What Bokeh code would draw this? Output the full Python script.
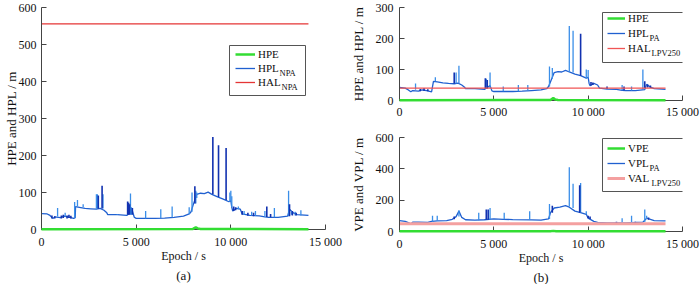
from bokeh.plotting import figure
from bokeh.models import Range1d, FixedTicker, Legend, LegendItem, Label, Title, BoxAnnotation
from bokeh.layouts import row, column
from bokeh.embed import file_html
from bokeh.resources import INLINE

FONT = "Liberation Serif"

# ---------------- data (a) ----------------
a_hpl_t = [0, 300, 450, 600, 700, 1000, 1200, 1500, 1700, 1780, 1800, 2000, 2300, 2600, 2900, 3100, 3300, 3450, 3500, 4000,
           4500, 4800, 4900, 5000, 6000, 6500, 7000, 7500, 7800, 7900, 8000, 8100, 8200, 8400, 8600, 8800, 9000, 9300,
           9600, 9900, 10000, 10050, 10100, 10300, 10500, 10600, 11000, 11500, 11800, 12000, 12500, 13000, 13100, 13300,
           13500, 14100]
a_hpl_v = [43, 42, 38, 30, 34, 32, 36, 33, 30, 32, 62, 60, 57, 56, 55, 57, 52, 45, 40, 40,
           38, 50, 33, 30, 30, 31, 33, 36, 42, 48, 65, 80, 95, 98, 97, 101, 95, 88,
           82, 75, 78, 60, 50, 57, 55, 42, 38, 37, 34, 33, 33, 36, 55, 45,
           40, 38]
a_spk_t = [850, 1250, 1750, 1900, 2200, 2900, 2950, 3250, 4000, 4700, 4750, 5500, 6300, 6900, 7800, 7950, 8150, 8200,
           9950, 10000, 10050, 10400, 10700, 11100, 11300, 11800, 12300, 13050, 13200, 13400, 13700]
a_spk_lo = [35, 35, 32, 62, 60, 56, 56, 57, 40, 40, 40, 30, 31, 33, 42, 48, 70, 85,
            75, 78, 60, 55, 40, 38, 37, 34, 33, 36, 40, 38, 38]
a_spk_hi = [58, 45, 74, 80, 68, 95, 95, 95, 42, 97, 60, 50, 55, 62, 60, 100, 105, 100,
            100, 105, 90, 62, 50, 48, 50, 50, 58, 105, 50, 48, 52]
a_dk_t = [550, 700, 1050, 1150, 1350, 1450, 1550, 3000, 3200, 4550, 4600, 4650, 4800, 8100, 9050, 9350, 9750,
          10150, 10250, 10600, 10900, 11200, 11900, 12100, 13100, 13250, 13450]
a_dk_lo = [30, 30, 30, 31, 30, 31, 30, 56, 57, 40, 40, 40, 40, 70, 95, 88, 80,
           50, 52, 40, 37, 36, 34, 33, 36, 38, 38]
a_dk_hi = [38, 36, 38, 40, 38, 40, 37, 92, 118, 76, 72, 68, 58, 117, 250, 228, 220,
           62, 60, 50, 45, 45, 62, 42, 68, 50, 45]
a_hpe_t = [0, 8000, 8150, 8250, 8400, 14100]
a_hpe_v = [1, 1.5, 6, 3, 1.5, 1]
a_hal_t = [0, 14100]
a_hal_v = [556, 556]

# ---------------- data (b) top ----------------
b_hpl_t = [0, 300, 450, 600, 700, 1000, 1200, 1500, 1700, 1800, 2000, 2300, 2600, 2900, 3100, 3300, 3450, 3500, 4000,
           4500, 4800, 4900, 5000, 6000, 6500, 7000, 7500, 7800, 7900, 8000, 8100, 8200, 8400, 8600, 8800, 9000,
           9300, 9600, 9900, 10000, 10050, 10100, 10300, 10500, 10600, 11000, 11500, 11800, 12000, 12500, 13000,
           13100, 13300, 13500, 14100]
b_hpl_v = [42, 40, 35, 28, 32, 30, 34, 31, 28, 62, 60, 57, 55, 54, 56, 50, 43, 38, 38,
           36, 48, 31, 29, 29, 30, 32, 34, 38, 45, 60, 75, 90, 93, 92, 97, 92,
           85, 80, 72, 75, 55, 48, 55, 50, 40, 37, 36, 33, 32, 32, 35,
           52, 43, 38, 36]
b_spk_t = [850, 1900, 3000, 3150, 4600, 4800, 5500, 6300, 6800, 7950, 8100, 9000, 9200, 9900, 10000, 11800, 12300, 12900]
b_spk_lo = [35, 62, 55, 56, 38, 40, 30, 30, 32, 45, 70, 92, 90, 72, 72, 33, 32, 35]
b_spk_hi = [55, 75, 90, 112, 70, 90, 45, 50, 50, 110, 105, 240, 225, 100, 98, 50, 45, 100]
b_dk_t = [1100, 1300, 1500, 2900, 4550, 4650, 9600, 10150, 10250, 11000, 11900, 13000, 13150, 13300]
b_dk_lo = [30, 31, 30, 55, 38, 38, 80, 48, 50, 37, 33, 40, 42, 40]
b_dk_hi = [37, 40, 36, 90, 72, 66, 215, 60, 58, 45, 45, 62, 52, 48]
b_hpe_t = [0, 8000, 8150, 8250, 8400, 14100]
b_hpe_v = [1, 1.5, 8, 3, 1.5, 1]
b_hal_t = [0, 14100]
b_hal_v = [40, 40]

# ---------------- data (b) bottom ----------------
c_vpl_t = [0, 300, 500, 600, 700, 1000, 1500, 1700, 2000, 2500, 2800, 3000, 3150, 3300, 3500, 4000, 4500, 5000,
           5500, 6000, 7000, 7500, 7900, 8000, 8200, 8500, 8800, 9000, 9300, 9600, 9900, 10000, 10300, 10500,
           11000, 12000, 12900, 13100, 13500, 14100]
c_vpl_v = [70, 65, 55, 48, 60, 60, 58, 65, 68, 70, 78, 95, 130, 90, 75, 72, 75, 80,
           78, 76, 74, 72, 80, 120, 150, 155, 165, 155, 130, 120, 110, 85, 65, 58,
           55, 55, 60, 85, 70, 68]
c_spk_t = [1750, 2000, 3150, 4200, 4800, 5550, 6900, 7950, 9000, 9200, 9600, 9900, 11800, 12300, 13000, 13100]
c_spk_lo = [62, 68, 95, 72, 75, 78, 74, 80, 160, 150, 120, 110, 55, 56, 60, 80]
c_spk_hi = [100, 100, 135, 120, 150, 120, 130, 175, 410, 305, 310, 130, 85, 100, 140, 100]
c_dk_t = [2900, 4600, 4700, 8100, 9550, 10000, 10100, 11500, 12500, 13200]
c_dk_lo = [78, 75, 75, 120, 120, 85, 80, 55, 55, 75]
c_dk_hi = [95, 140, 140, 165, 295, 100, 95, 62, 62, 90]
c_vpe_t = [0, 8000, 8150, 8300, 14100]
c_vpe_v = [2, 2, 4, 2, 2]
c_val_t = [0, 14100]
c_val_v = [50, 50]

x_ticks = [0, 5000, 10000, 15000]
x_tick_labels = {0: "0", 5000: "5 000", 10000: "10 000", 15000: "15 000"}

GREEN = "#33dd33"
BLUE = "#3a8ee8"
BLUE_BASE = "#2060d0"
BLUE_DARK = "#1232b0"
GRAY = "#444444"
TXT = "#111111"


class Frame:
    def __init__(self, left, bottom, w, h, ymax):
        self.left, self.bottom, self.w, self.h, self.ymax = left, bottom, w, h, ymax

    def fx(self, cx):
        return (cx - self.left) / self.w * 15000

    def fy(self, cy):
        return (self.bottom - cy) / self.h * self.ymax


def make_fig(w, h, ymax, ystep, bl, br, bt, bb, ylabel, xlabel, ylab_standoff, ytick_standoff, xtick_standoff):
    p = figure(width=w, height=h, output_backend="svg", toolbar_location=None,
               x_range=Range1d(0, 15000), y_range=Range1d(0, ymax),
               min_border_left=bl, min_border_right=br, min_border_top=bt, min_border_bottom=bb)
    p.outline_line_color = None
    p.xgrid.visible = False
    p.ygrid.visible = False
    p.xaxis.ticker = FixedTicker(ticks=x_ticks)
    p.xaxis.major_label_overrides = x_tick_labels
    p.yaxis.ticker = FixedTicker(ticks=list(range(0, ymax + 1, ystep)))
    for ax in (p.xaxis[0], p.yaxis[0]):
        ax.axis_line_color = GRAY
        ax.major_tick_line_color = GRAY
        ax.minor_tick_line_color = None
        ax.major_tick_in = 5
        ax.major_tick_out = 0
        ax.major_label_text_font = FONT
        ax.major_label_text_font_size = "12px"
        ax.major_label_text_color = TXT
        ax.axis_label_text_font = FONT
        ax.axis_label_text_font_style = "normal"
        ax.axis_label_text_color = TXT
    p.yaxis.axis_label = ylabel
    p.yaxis.axis_label_text_font_size = "13px"
    p.yaxis.axis_label_standoff = ylab_standoff
    p.yaxis.major_label_standoff = ytick_standoff
    p.xaxis.major_label_standoff = xtick_standoff
    if xlabel:
        p.xaxis.axis_label = xlabel
        p.xaxis.axis_label_text_font_size = "12px"
        p.xaxis.axis_label_standoff = -3
    return p


def draw(p, t, v, st, slo, shi, dt, dlo, dhi, et, ev, lt, lv, lcolor, lwidth):
    base = p.line(t, v, line_color=BLUE_BASE, line_width=1.3)
    p.segment(st, slo, st, shi, line_color=BLUE, line_width=1.3)
    p.segment(dt, dlo, dt, dhi, line_color=BLUE_DARK, line_width=1.6)
    lim = p.line(lt, lv, line_color=lcolor, line_width=lwidth)
    err = p.line(et, ev, line_color=GREEN, line_width=2.5, level="overlay")
    return err, base, lim


ROW_H = 16


def legend(p, fr, rs, labels, subs, sub_dx, box, row_ys, line_x, glyph_w):
    bx0, by0, bx1, by1 = box
    p.add_layout(BoxAnnotation(left=fr.fx(bx0), right=fr.fx(bx1), top=fr.fy(by0), bottom=fr.fy(by1),
                               fill_color="white", fill_alpha=1, line_color="#555555", line_width=1,
                               line_alpha=1))
    text_x = line_x + glyph_w + 3
    for lab, r, ry, s, dx in zip(labels, rs, row_ys, subs, sub_dx):
        lg = Legend(items=[LegendItem(label=lab, renderers=[r])],
                    location=(line_x - fr.left, fr.bottom - (ry + ROW_H / 2)), padding=0, spacing=0, margin=0,
                    glyph_width=glyph_w, glyph_height=ROW_H, label_height=ROW_H, label_width=20,
                    label_standoff=3, label_text_font=FONT, label_text_font_size="11px",
                    label_text_line_height=1.0, label_text_color=TXT,
                    border_line_color=None, background_fill_alpha=0)
        p.add_layout(lg, "center")
        if s:
            p.add_layout(Label(x=fr.fx(text_x + dx), y=fr.fy(ry + 4), text=s, text_font=FONT,
                               text_font_size="8.5px", text_baseline="middle", text_align="left",
                               text_color=TXT, level="overlay"))


def panel_title(p, text, standoff):
    p.add_layout(Title(text=text, align="center", text_font=FONT, text_font_size="13px",
                       text_font_style="normal", text_color=TXT, standoff=standoff), "below")


# ---------------- figure (a) ----------------
fa = Frame(41, 229, 284, 222, 600)
pa = make_fig(345, 284, 600, 100, 41, 20, 7, 55, "HPE and HPL / m", "Epoch / s", -3, 5, 5)
r = draw(pa, a_hpl_t, a_hpl_v, a_spk_t, a_spk_lo, a_spk_hi, a_dk_t, a_dk_lo, a_dk_hi,
         a_hpe_t, a_hpe_v, a_hal_t, a_hal_v, "#e53535", 1.3)
legend(pa, fa, r, ["HPE", "HPL", "HAL"], ["", "NPA", "NPA"], [0, 21, 23],
       (229, 45, 305, 95), [54, 68, 82], 235, 20)
panel_title(pa, "(a)", 0)

# ---------------- figure (b) top ----------------
fb = Frame(399, 100, 283, 93, 300)
pb = make_fig(355, 122, 300, 100, 54, 18, 7, 22, "HPE and HPL / m", None, 7, 6, 4)
r = draw(pb, b_hpl_t, b_hpl_v, b_spk_t, b_spk_lo, b_spk_hi, b_dk_t, b_dk_lo, b_dk_hi,
         b_hpe_t, b_hpe_v, b_hal_t, b_hal_v, "#f05555", 1.3)
legend(pb, fb, r, ["HPE", "HPL", "HAL"], ["", "PA", "LPV250"], [0, 21, 23],
       (602, 12, 687, 62), [18, 33, 48], 607, 18)

# ---------------- figure (b) bottom ----------------
fc = Frame(399, 231, 283, 94, 600)
pc = make_fig(355, 162, 600, 200, 54, 18, 15, 53, "VPE and VPL / m", "Epoch / s", 7, 6, 5)
r = draw(pc, c_vpl_t, c_vpl_v, c_spk_t, c_spk_lo, c_spk_hi, c_dk_t, c_dk_lo, c_dk_hi,
         c_vpe_t, c_vpe_v, c_val_t, c_val_v, "#f4a0a0", 3)
legend(pc, fc, r, ["VPE", "VPL", "VAL"], ["", "PA", "LPV250"], [0, 21, 23],
       (602, 138, 687, 191), [148, 163, 178], 607, 18)
panel_title(pc, "(b)", 0)

layout = row(pa, column(pb, pc))
open("out.html", "w").write(file_html(layout, INLINE))
